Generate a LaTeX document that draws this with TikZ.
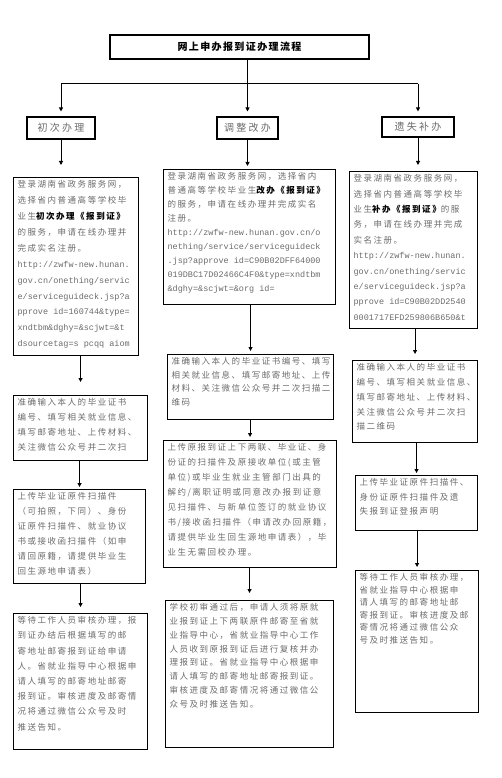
\documentclass[tikz,border=0pt]{standalone}
\usepackage{fontspec}
\setmainfont{Liberation Serif}
\newfontfamily\cjk[LetterSpace=18]{Noto Sans CJK SC}
\newfontfamily\cjkwide[LetterSpace=23]{Noto Sans CJK SC}
\newfontfamily\cjkhead[LetterSpace=14]{Noto Sans CJK SC}
\newfontfamily\urlf{Liberation Mono}
\usetikzlibrary{arrows.meta,positioning}
\definecolor{txt}{gray}{0.42}

\begin{document}
\begin{tikzpicture}[x=1pt,y=-1pt,
  every node/.style={font=\cjk},
  arr/.style={-{Triangle[length=4pt,width=4pt]},line width=0.9pt},
  frame/.style={draw,line width=1.1pt},
  kind/.style={frame,text=txt,font=\cjkwide\fontsize{10}{12}\selectfont,inner sep=0pt},
  panel/.style n args={3}{frame,anchor=north west,inner xsep=4pt,inner ysep=3pt,text=txt,
    execute at begin node={\begin{minipage}[c][#2pt][t]{#1pt}\fontsize{8.5}{#3}\selectfont},
    execute at end node={\end{minipage}}}
]
\useasboundingbox (0,0) rectangle (502,778);

% title and the three ways
\node[frame,font=\cjkhead\bfseries\fontsize{10}{12}\selectfont,minimum width=259pt,
  minimum height=24pt,inner sep=0pt] (title) at (239.5,47) {网上申办报到证办理流程};
\node[kind,minimum width=68pt,minimum height=22pt] (first) at (61,128) {初次办理};
\node[kind,minimum width=61pt,minimum height=22pt] (change) at (247.5,128) {调整改办};
\node[kind,minimum width=72pt,minimum height=20pt] (lost) at (418,127) {遗失补办};

% first column
\node[panel={117}{172}{15.9}] (first1) at (13,177) {登录湖南省政务服务网，\\
选择省内普通高等学校毕\\
业生{\color{black}\bfseries 初次办理《报到证》}\\
的服务，申请在线办理并\\
完成实名注册。\\
{\urlf http://zwfw-new.hunan.\\
gov.cn/onething/servic\\
e/serviceguideck.jsp?a\\
pprove id=160744\&type=\\
xndtbm\&dghy=\&scjwt=\&t\\
dsourcetag=s pcqq aiom}};
\node[panel={126}{59}{15}] (first2) at (13,395) {准确输入本人的毕业证书\\
编号、填写相关就业信息、\\
填写邮寄地址、上传材料、\\
关注微信公众号并二次扫};
\node[panel={124}{88}{15}] (first3) at (13,489) {上传毕业证原件扫描件\\
（可拍照，下同）、身份\\
证原件扫描件、就业协议\\
书或接收函扫描件（如申\\
请回原籍，请提供毕业生\\
回生源地申请表）};
\node[panel={126}{130}{15.2}] (first4) at (13,613) {等待工作人员审核办理，报\\
到证办结后根据填写的邮\\
寄地址邮寄报到证给申请\\
人。省就业指导中心根据申\\
请人填写的邮寄地址邮寄\\
报到证。审核进度及邮寄情\\
况将通过微信公众号及时\\
推送告知。};

% second column
\node[panel={164}{129}{14}] (change1) at (163,169) {登录湖南省政务服务网，选择省内\\
普通高等学校毕业生{\color{black}\bfseries 改办《报到证》}\\
的服务，申请在线办理并完成实名\\
注册。\\
{\urlf http://zwfw-new.hunan.gov.cn/o\\
nething/service/serviceguideck\\
.jsp?approve id=C90B02DFF64000\\
019DBC17D02466C4F0\&type=xndtbm\\
\&dghy=\&scjwt=\&org id=}};
\node[panel={158}{59}{13.5}] (change2) at (167,354) {准确输入本人的毕业证书编号、填写\\
相关就业信息、填写邮寄地址、上传\\
材料、关注微信公众号并二次扫描二\\
维码};
\node[panel={165}{121}{15}] (change3) at (163,440) {上传原报到证上下两联、毕业证、身\\
份证的扫描件及原接收单位(或主管\\
单位)或毕业生就业主管部门出具的\\
解约/离职证明或同意改办报到证意\\
见扫描件、与新单位签订的就业协议\\
书/接收函扫描件（申请改办回原籍，\\
请提供毕业生回生源地申请表），毕\\
业生无需回校办理。};
\node[panel={160}{141}{13.8}] (change4) at (165,600) {学校初审通过后，申请人须将原就\\
业报到证上下两联原件邮寄至省就\\
业指导中心，省就业指导中心工作\\
人员收到原报到证后进行复核并办\\
理报到证。省就业指导中心根据申\\
请人填写的邮寄地址邮寄报到证。\\
审核进度及邮寄情况将通过微信公\\
众号及时推送告知。};

% third column
\node[panel={120}{151}{15.4}] (lost1) at (349,171) {登录湖南省政务服务网，\\
选择省内普通高等学校毕\\
业生{\color{black}\bfseries 补办《报到证》}的服\\
务，申请在线办理并完成\\
实名注册。\\
{\urlf http://zwfw-new.hunan.\\
gov.cn/onething/servic\\
e/serviceguideck.jsp?a\\
pprove id=C90B02DD2540\\
0001717EFD259806B650\&t}};
\node[panel={117}{76}{14.8}] (lost2) at (352,360) {准确输入本人的毕业证书\\
编号、填写相关就业信息、\\
填写邮寄地址、上传材料、\\
关注微信公众号并二次扫\\
描二维码};
\node[panel={114}{49}{14.5}] (lost3) at (355,475) {上传毕业证原件扫描件、\\
身份证原件扫描件及遗\\
失报到证登报声明};
\node[panel={115}{136}{12.5}] (lost4) at (355,570) {等待工作人员审核办理，\\
省就业指导中心根据申\\
请人填写的邮寄地址邮\\
寄报到证。审核进度及邮\\
寄情况将通过微信公众\\
号及时推送告知。};

% connectors
\path (title.south -| change.north) ++(0,24) coordinate (split);
\draw[line width=0.9pt] (title.south -| change.north) -- (split);
\draw[line width=0.9pt] (first.north |- split) -- (lost.north |- split);
\draw[arr,shorten >=5pt] (first.north |- split) -- (first.north);
\draw[arr,shorten >=5pt] (split) -- (change.north);
\draw[arr,shorten >=5pt] (lost.north |- split) -- (lost.north);

\draw[arr,shorten >=12pt] (first.south) -- (first.south |- first1.north);
\draw[arr,shorten >=3pt] (change.south) -- (change.south |- change1.north);
\draw[arr,shorten >=6pt] (lost.south) -- (lost.south |- lost1.north);

\draw[arr,shorten >=13pt] (first1.south -| first2.north) -- (first2.north);
\draw[arr,shorten >=2pt] (first2.south -| first3.north) -- (first3.north);
\draw[arr,shorten >=6pt] (first3.south -| first4.north) -- (first4.north);

\draw[arr,shorten >=3pt] (change1.south -| change2.north) -- (change2.north);
\draw[arr,shorten >=3pt] (change2.south -| change3.north) -- (change3.north);
\draw[arr,shorten >=7pt] (change3.south -| change4.north) -- (change4.north);

\draw[arr,shorten >=6pt] (lost1.south -| lost2.north) -- (lost2.north);
\draw[arr,shorten >=2pt] (lost2.south -| lost3.north) -- (lost3.north);
\draw[arr,shorten >=3pt] (lost3.south -| lost4.north) -- (lost4.north);
\end{tikzpicture}
\end{document}
